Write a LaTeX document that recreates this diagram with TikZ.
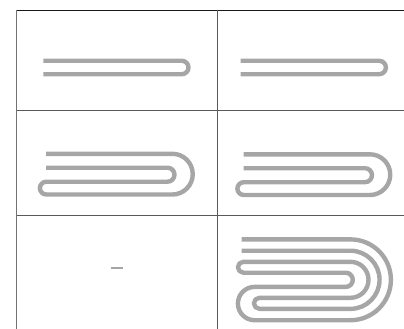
\documentclass[tikz,border=0pt]{standalone}
\begin{document}
\begin{tikzpicture}[x=1pt,y=-1pt,
  tube/.style={draw=gray!70,line width=4.4pt,line join=round},
  rule/.style={draw=black!65,line width=1pt},
  toprule/.style={draw=black!90,line width=1.2pt}]
\useasboundingbox (0,0) rectangle (404,329);
% table lines
\draw[toprule] (16.7,10.3) -- (404,10.3);
\draw[rule] (16.7,110.5) -- (404,110.5);
\draw[rule] (16.7,215.8) -- (404,215.8);
\draw[rule,draw=black!55] (16.7,10.3) -- (16.7,329);
\draw[rule] (217,10.3) -- (217,329);
% row 1
\foreach \dx in {0,197.4}{
  \begin{scope}[shift={(\dx,0)}]
  \draw[tube] (43.3,60.8) -- (181.8,60.8) arc[start angle=-90,end angle=90,radius=6.7] -- (43.3,74.2);
  \end{scope}
}
% row 2
\foreach \dx/\dy in {0/0,197.5/0.5}{
  \begin{scope}[shift={(\dx,\dy)}]
  \draw[tube] (46,153.8) -- (172.4,153.8) arc[start angle=-90,end angle=90,radius=20.35]
    -- (46.3,194.5) arc[start angle=90,end angle=270,radius=6.4]
    -- (167.5,181.7) arc[start angle=90,end angle=-90,radius=7]
    -- (46,167.7);
  \end{scope}
}
% row 3, left: dash
\draw[draw=gray!70,line width=2pt] (111,268) -- (123.3,268);
% row 3, right
\draw[tube] (241.7,239.4) -- (350.5,239.4) arc[start angle=-90,end angle=90,radius=40.4]
  -- (254.55,320.2) arc[start angle=90,end angle=270,radius=16.65]
  -- (345.7,286.9) arc[start angle=90,end angle=-90,radius=7.1]
  -- (243.35,272.7) arc[start angle=90,end angle=270,radius=5.45]
  -- (350.5,261.8) arc[start angle=-90,end angle=90,radius=18]
  -- (259.4,297.8) arc[start angle=-90,end angle=-270,radius=5.5]
  -- (350.5,308.85) arc[start angle=90,end angle=-90,radius=29.05]
  -- (241.7,250.75);
\end{tikzpicture}
\end{document}
